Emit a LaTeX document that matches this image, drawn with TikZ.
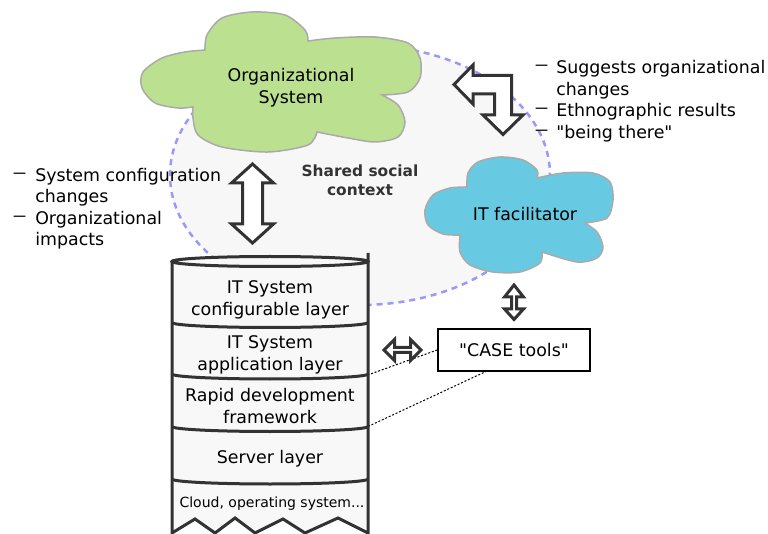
\documentclass[tikz,border=0pt]{standalone}
\usepackage{fontspec}
\setmainfont{DejaVu Sans}
\definecolor{dark}{HTML}{333333}
\definecolor{orggreen}{HTML}{BBE08F}
\definecolor{itblue}{HTML}{68CAE2}
\definecolor{cloudgray}{HTML}{AAAAAA}
\definecolor{ctxfill}{HTML}{F7F7F7}
\definecolor{ctxdash}{HTML}{9999F8}
\definecolor{cylfill}{HTML}{F8F8F8}
\newcommand\dashmark{\raisebox{3pt}{\scalebox{0.75}[1]{—}}}
\begin{document}
\begin{tikzpicture}[x=1pt,y=-1pt,
  every node/.style={inner sep=0pt, font=\fontsize{17.4}{21.5}\selectfont},
  cloudline/.style={draw=cloudgray, line width=1.5pt},
  cylline/.style={draw=dark, line width=3pt},
  blockarrow/.style={draw=dark, fill=white, line width=3pt, line join=miter},
  dotline/.style={draw=black, line width=1pt, dash pattern=on 2pt off 1.8pt},
  layer/.style={align=center}]
\useasboundingbox (0,0) rectangle (768,534);
\fill[white] (0,0) rectangle (768,534);

% shared social context
\filldraw[fill=ctxfill, draw=ctxdash, line width=2.5pt, dash pattern=on 6pt off 5pt]
  (360,175) ellipse[x radius=190, y radius=130];
\node[align=center, font=\bfseries\fontsize{15.4}{19}\selectfont, text=dark] (ctx) at (360,180.7) {Shared social\\context};

% organizational system cloud
\filldraw[cloudline, fill=orggreen] (193,107)
  -- plot[smooth] coordinates {(193,107) (178,108) (155,103) (142,88) (143,72) (162,58) (185,52) (205,50)}
  -- plot[smooth] coordinates {(205,50) (207,35) (222,18) (252,12) (285,15) (305,30) (308,41)}
  -- plot[smooth] coordinates {(308,41) (335,38) (375,37) (408,43) (420,58) (420,78) (408,92) (382,95)}
  -- plot[smooth] coordinates {(382,95) (398,105) (405,122) (398,137) (375,142) (348,138) (317,132)}
  -- plot[smooth] coordinates {(317,132) (308,145) (268,152) (222,147) (198,135) (193,118) (193,107)}
  -- cycle;
\node[align=center] (org) at (291,87.6) {Organizational\\System};

% IT facilitator cloud
\filldraw[cloudline, fill=itblue] (460,235)
  -- plot[smooth] coordinates {(460,235) (443,234) (428,225) (425,210) (433,195) (450,188) (467,187)}
  -- plot[smooth] coordinates {(467,187) (468,173) (478,162) (500,157) (523,160) (537,170) (537,178)}
  -- plot[smooth] coordinates {(537,178) (563,173) (593,173) (610,182) (613,200) (607,218) (585,223)}
  -- plot[smooth] coordinates {(585,223) (597,232) (603,247) (597,258) (577,262) (542,252)}
  -- plot[smooth] coordinates {(542,252) (540,263) (520,272) (493,272) (470,265) (460,252) (460,235)}
  -- cycle;
\node (itf) at (525,214.4) {IT facilitator};

% IT system stack
\fill[cylfill] (172,261.5) -- (172,533) -- (195,519) -- (215,533) -- (235,518) -- (255,533)
  -- (283,519) -- (305,533) -- (338,518) -- (368,533) -- (368,261.5)
  arc[start angle=0, end angle=-180, x radius=98, y radius=5] -- cycle;
\draw[cylline, line join=miter] (172,261.5) -- (172,533) -- (195,519) -- (215,533) -- (235,518) -- (255,533)
  -- (283,519) -- (305,533) -- (338,518) -- (368,533) -- (368,253);
\draw[cylline] (270,261.5) ellipse[x radius=98, y radius=5];
\foreach \e in {322.5,374,426.5,479}
  \draw[cylline] (172,\e) arc[start angle=180, end angle=0, x radius=98, y radius=5];
\node[layer] (l1) at (270,299.7) {IT System\\configurable layer};
\node[layer] (l2) at (270,354.7) {IT System\\application layer};
\node[layer] (l3) at (270,406) {Rapid development\\framework};
\node (l4) at (270,458.7) {Server layer};
\node[font=\fontsize{14}{17}\selectfont] (l5) at (272,504) {Cloud, operating system...};

% CASE tools
\node[draw=black, line width=1.5pt, fill=white, minimum width=152, minimum height=42] (case) at (514,350) {\textquotedbl CASE tools\textquotedbl};
\coordinate (b2r) at (369,374.5);
\coordinate (b3r) at (369,426);
\coordinate (casebot) at (487,371);
\draw[dotline] (case.west) -- (b2r);
\draw[dotline] (casebot) -- (b3r);

% block arrows
\draw[blockarrow] (252.5,164) -- (273.5,183) -- (262.5,183) -- (262.5,224) -- (273.5,224) -- (252.5,243)
  -- (231.5,224) -- (242.5,224) -- (242.5,183) -- (231.5,183) -- cycle;
\draw[blockarrow] (514,285) -- (523.5,297) -- (516.5,297) -- (516.5,309) -- (523.5,309) -- (514,319.5)
  -- (504.5,309) -- (511.5,309) -- (511.5,297) -- (504.5,297) -- cycle;
\draw[blockarrow] (384,350) -- (394.5,339.5) -- (394.5,347.5) -- (410.5,347.5) -- (410.5,339.5) -- (421,350)
  -- (410.5,360.5) -- (410.5,352.5) -- (394.5,352.5) -- (394.5,360.5) -- cycle;
\draw[blockarrow] (454,84.5) -- (473,65) -- (473,75.5) -- (511.5,75.5) -- (511.5,115) -- (523,115)
  -- (503,134.5) -- (483,115) -- (494.5,115) -- (494.5,94) -- (473,94) -- (473,104) -- cycle;

% side notes
\node[anchor=north west] (lefttxt) at (13,165.95) {\begin{tabular}{@{}l@{\hspace{9pt}}l@{}}
\dashmark & System configuration\\
 & changes\\
\dashmark & Organizational\\
 & impacts
\end{tabular}};
\node[anchor=north west] (righttxt) at (535,58.45) {\begin{tabular}{@{}l@{\hspace{8pt}}l@{}}
\dashmark & Suggests organizational\\
 & changes\\
\dashmark & Ethnographic results\\
\dashmark & \textquotedbl being there\textquotedbl
\end{tabular}};
\end{tikzpicture}
\end{document}
